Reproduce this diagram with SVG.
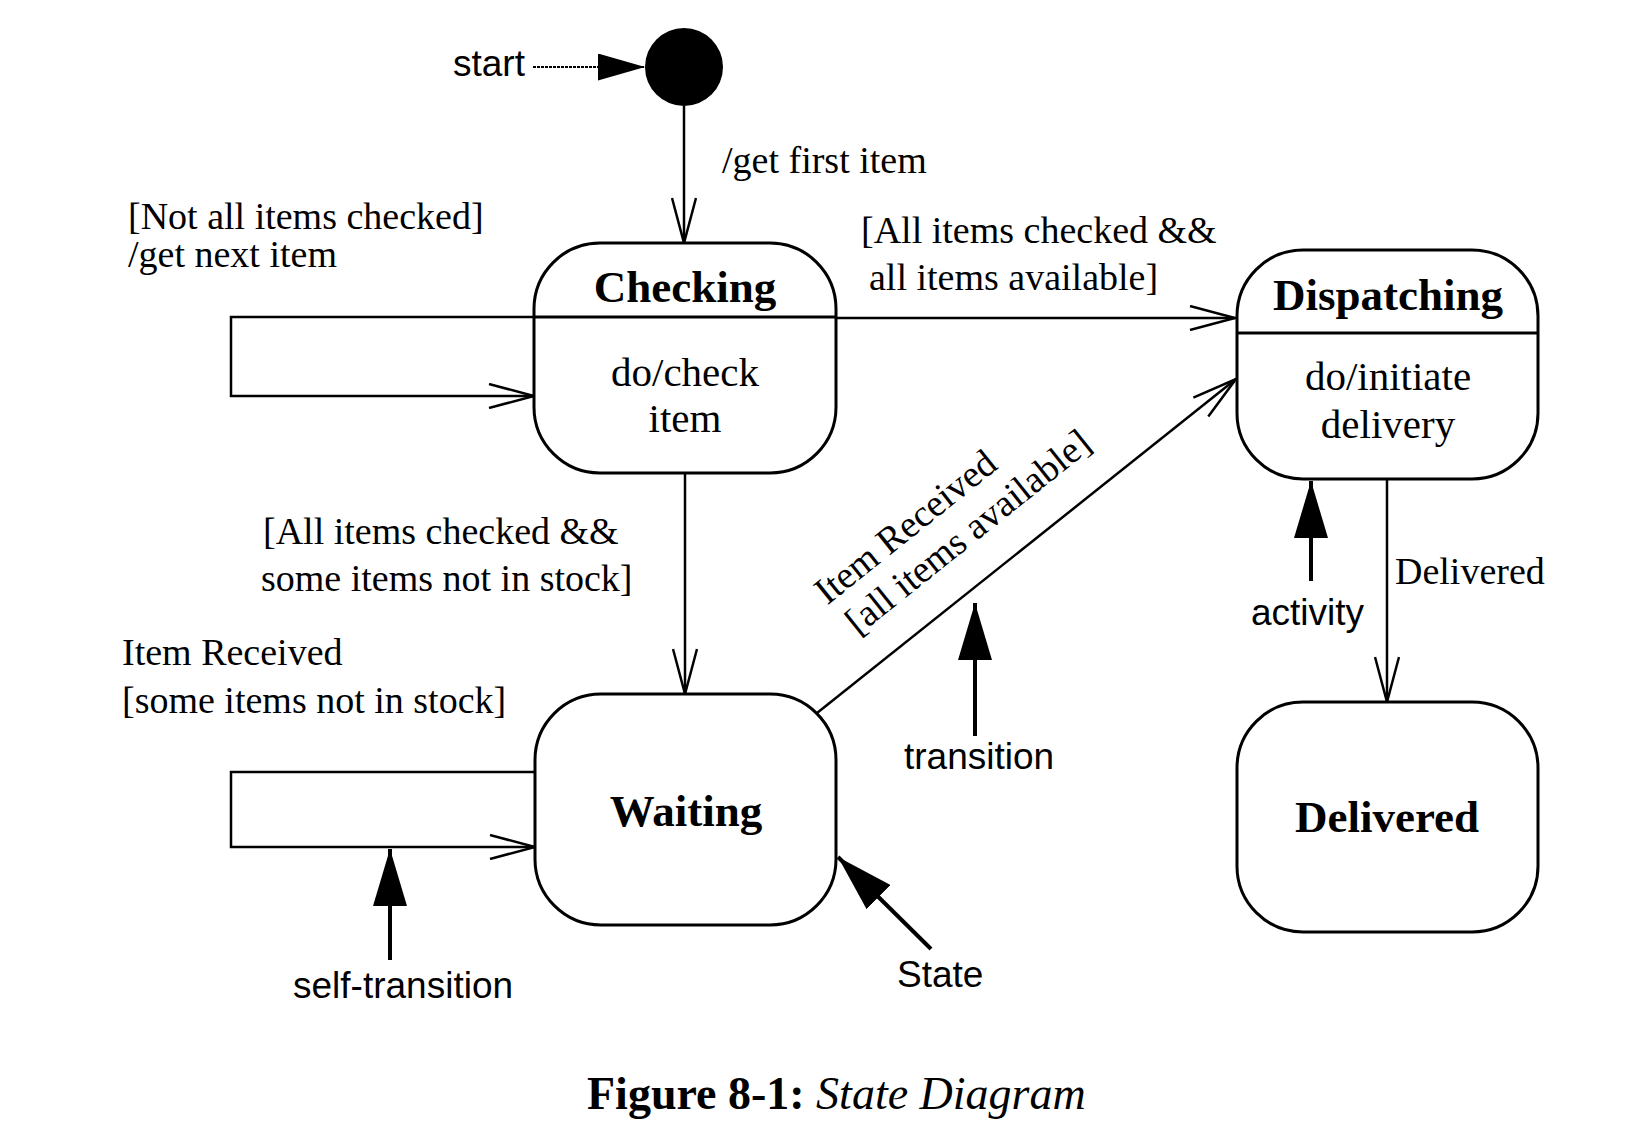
<svg xmlns="http://www.w3.org/2000/svg" width="1647" height="1145" viewBox="0 0 1647 1145">
<defs>
<style>
.node{fill:#fff;stroke:#000;stroke-width:3}
.div{stroke:#000;stroke-width:3}
.edge{fill:none;stroke:#000;stroke-width:2.5}
.ann{fill:none;stroke:#000;stroke-width:4}
.serif{font-family:"Liberation Serif","Times New Roman",serif;font-size:38px;fill:#000}
.body{font-family:"Liberation Serif","Times New Roman",serif;font-size:41px;fill:#000;text-anchor:middle}
.title{font-family:"Liberation Serif","Times New Roman",serif;font-size:45px;font-weight:bold;fill:#000;text-anchor:middle}
.sans{font-family:"Liberation Sans",Arial,sans-serif;font-size:37px;fill:#000}
</style>
<marker id="open" viewBox="0 0 48 26" refX="46" refY="13" markerWidth="48" markerHeight="26" markerUnits="userSpaceOnUse" orient="auto">
<path d="M1,1 L46,13 L1,25" fill="none" stroke="#000" stroke-width="2.5"/>
</marker>
<marker id="solid" viewBox="0 0 57 34" refX="57" refY="17" markerWidth="57" markerHeight="34" markerUnits="userSpaceOnUse" orient="auto">
<path d="M0,0 L57,17 L0,34 Z" fill="#000"/>
</marker>
<marker id="solidSmall" viewBox="0 0 47 27" refX="47" refY="13.5" markerWidth="47" markerHeight="27" markerUnits="userSpaceOnUse" orient="auto">
<path d="M0,0 L47,13.5 L0,27 Z" fill="#000"/>
</marker>
</defs>
<rect x="0" y="0" width="1647" height="1145" fill="#fff"/>

<g id="connectors">
<path class="edge" d="M684,106 V243" marker-end="url(#open)"/>
<path class="edge" d="M534,317 H231 V396 H534" marker-end="url(#open)"/>
<path class="edge" d="M836,318 H1235" marker-end="url(#open)"/>
<path class="edge" d="M685,473 V694" marker-end="url(#open)"/>
<path class="edge" d="M535,772 H231 V847 H535" marker-end="url(#open)"/>
<path class="edge" d="M817,713 L1236,379" marker-end="url(#open)"/>
<path class="edge" d="M1387,479 V702" marker-end="url(#open)"/>
</g>

<g id="edge-labels">
<text class="serif" x="722" y="173">/get first item</text>
<text class="serif" x="128" y="229">[Not all items checked]</text>
<text class="serif" x="128" y="267">/get next item</text>
<text class="serif" x="861" y="243">[All items checked &amp;&amp;</text>
<text class="serif" x="869" y="290">all items available]</text>
<text class="serif" x="263" y="544">[All items checked &amp;&amp;</text>
<text class="serif" x="261" y="591">some items not in stock]</text>
<text class="serif" x="122" y="665">Item Received</text>
<text class="serif" x="122" y="713">[some items not in stock]</text>
<text class="serif" x="1395" y="584">Delivered</text>
<g transform="translate(858,636) rotate(-38.7)">
<text class="serif" x="-5" y="-43">Item Received</text>
<text class="serif" x="0" y="0">[all items available]</text>
</g>
</g>

<g id="initial">
<circle cx="684" cy="67" r="39" fill="#000"/>
</g>

<g id="checking">
<rect class="node" x="534" y="243" width="302" height="230" rx="66" ry="66"/>
<line class="div" x1="534" y1="317" x2="836" y2="317"/>
<text class="title" x="685" y="302">Checking</text>
<text class="body" x="685" y="386">do/check</text>
<text class="body" x="685" y="432">item</text>
</g>

<g id="dispatching">
<rect class="node" x="1237" y="250" width="301" height="229" rx="66" ry="66"/>
<line class="div" x1="1237" y1="333" x2="1538" y2="333"/>
<text class="title" x="1388" y="310">Dispatching</text>
<text class="body" x="1388" y="390" font-size="40">do/initiate</text>
<text class="body" x="1388" y="438" font-size="43">delivery</text>
</g>

<g id="waiting">
<rect class="node" x="535" y="694" width="301" height="231" rx="66" ry="66"/>
<text class="title" x="686" y="826">Waiting</text>
</g>

<g id="delivered">
<rect class="node" x="1237" y="702" width="301" height="230" rx="66" ry="66"/>
<text class="title" x="1387" y="832">Delivered</text>
</g>

<g id="annotations">
<text class="sans" x="453" y="76">start</text>
<path d="M533,67 H645" fill="none" stroke="#000" stroke-width="2" stroke-dasharray="3 1" marker-end="url(#solidSmall)"/>
<path class="ann" d="M390,960 V849" marker-end="url(#solid)"/>
<text class="sans" x="293" y="998">self-transition</text>
<path class="ann" d="M975,736 V603" marker-end="url(#solid)"/>
<text class="sans" x="904" y="769">transition</text>
<path class="ann" d="M1311,581 V481" marker-end="url(#solid)"/>
<text class="sans" x="1251" y="625">activity</text>
<path class="ann" d="M931,949 L838,857" marker-end="url(#solid)"/>
<text class="sans" x="897" y="987">State</text>
</g>

<g id="caption">
<text x="587" y="1109" style="font-family:'Liberation Serif','Times New Roman',serif;font-size:46px;fill:#000"><tspan font-weight="bold">Figure 8-1:</tspan> <tspan font-style="italic">State Diagram</tspan></text>
</g>
</svg>
